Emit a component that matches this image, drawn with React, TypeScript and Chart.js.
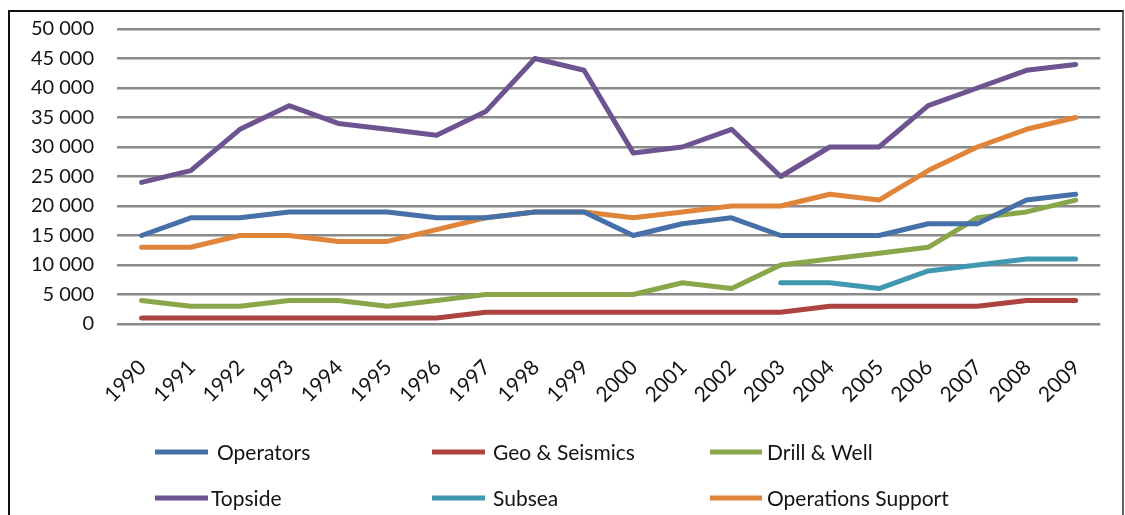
import { useEffect, useRef } from "react";
import { Chart, registerables } from "chart.js";

Chart.register(...registerables);

// Employment by category, 1990–2009
const years = [
  "1990", "1991", "1992", "1993", "1994", "1995", "1996", "1997", "1998", "1999",
  "2000", "2001", "2002", "2003", "2004", "2005", "2006", "2007", "2008", "2009",
];

const operators = [15000, 18000, 18000, 19000, 19000, 19000, 18000, 18000, 19000, 19000, 15000, 17000, 18000, 15000, 15000, 15000, 17000, 17000, 21000, 22000];
const geoSeismics = [1000, 1000, 1000, 1000, 1000, 1000, 1000, 2000, 2000, 2000, 2000, 2000, 2000, 2000, 3000, 3000, 3000, 3000, 4000, 4000];
const drillWell = [4000, 3000, 3000, 4000, 4000, 3000, 4000, 5000, 5000, 5000, 5000, 7000, 6000, 10000, 11000, 12000, 13000, 18000, 19000, 21000];
const topside = [24000, 26000, 33000, 37000, 34000, 33000, 32000, 36000, 45000, 43000, 29000, 30000, 33000, 25000, 30000, 30000, 37000, 40000, 43000, 44000];
const subsea = [null, null, null, null, null, null, null, null, null, null, null, null, null, 7000, 7000, 6000, 9000, 10000, 11000, 11000];
const operationsSupport = [13000, 13000, 15000, 15000, 14000, 14000, 16000, 18000, 19000, 19000, 18000, 19000, 20000, 20000, 22000, 21000, 26000, 30000, 33000, 35000];

const seriesNames = ["Operators", "Geo & Seismics", "Drill & Well", "Topside", "Subsea", "Operations Support"];
const seriesColors = ["#4570A8", "#AD4341", "#89A64B", "#6D5491", "#3F98B0", "#E0843A"];
const seriesValues = [operators, geoSeismics, drillWell, topside, subsea, operationsSupport];

const yTicks = [0, 5000, 10000, 15000, 20000, 25000, 30000, 35000, 40000, 45000, 50000];

const FONT = "Lato, 'Open Sans', sans-serif";
const TEXT_COLOR = "#141414";

const formatThousands = (v: number) =>
  String(v).replace(/\B(?=(\d{3})+(?!\d))/g, " ");

// Two-row, three-column legend drawn below the axis labels
const gridLegend = {
  id: "gridLegend",
  afterDraw(chart: Chart) {
    const ctx = chart.ctx;
    const lineStart = [155, 432, 710];
    const lineEnd = [208, 485, 762];
    const textX = [217, 493, 767, 211, 493, 767];
    const rowY = [452, 498];
    ctx.save();
    chart.data.datasets.forEach((ds, i) => {
      const col = i % 3;
      const row = Math.floor(i / 3);
      const y = rowY[row];
      ctx.strokeStyle = ds.borderColor as string;
      ctx.lineWidth = 5;
      ctx.lineCap = "butt";
      ctx.beginPath();
      ctx.moveTo(lineStart[col], y);
      ctx.lineTo(lineEnd[col], y);
      ctx.stroke();
      ctx.fillStyle = TEXT_COLOR;
      ctx.font = `21px ${FONT}`;
      ctx.textAlign = "left";
      ctx.textBaseline = "middle";
      ctx.fillText(ds.label as string, textX[i], y + 1);
    });
    ctx.restore();
  },
};

export default function App() {
  const canvasRef = useRef<HTMLCanvasElement>(null);

  useEffect(() => {
    const chart = new Chart(canvasRef.current!, {
      type: "line",
      data: {
        labels: years,
        datasets: seriesNames.map((name, i) => ({
          label: name,
          data: seriesValues[i],
          borderColor: seriesColors[i],
          backgroundColor: seriesColors[i],
          borderWidth: 5,
          pointRadius: 0,
          pointHoverRadius: 0,
          tension: 0,
          borderJoinStyle: "round" as const,
          borderCapStyle: "round" as const,
          spanGaps: false,
          fill: false,
        })),
      },
      options: {
        responsive: false,
        animation: false,
        layout: { padding: { left: 0, right: 21, top: 29, bottom: 0 } },
        plugins: {
          legend: { display: false },
          tooltip: { enabled: false },
        },
        scales: {
          x: {
            type: "category",
            offset: true,
            grid: { display: false, drawTicks: false },
            border: { display: false },
            ticks: {
              autoSkip: false,
              minRotation: 45,
              maxRotation: 45,
              padding: 31,
              labelOffset: 1,
              color: TEXT_COLOR,
              font: { family: FONT, size: 21 },
            },
            afterFit: (scale: any) => {
              scale.height = 191;
            },
          },
          y: {
            min: 0,
            max: 50000,
            afterBuildTicks: (scale: any) => {
              scale.ticks = yTicks.map((value) => ({ value }));
            },
            grid: {
              color: "#8A8A8A",
              lineWidth: 2.5,
              drawTicks: true,
              tickLength: 20,
              tickColor: "rgba(0,0,0,0)",
            },
            border: { display: false },
            ticks: {
              padding: 3,
              color: TEXT_COLOR,
              font: { family: FONT, size: 20 },
              callback: (v: any) => formatThousands(Number(v)),
            },
            afterFit: (scale: any) => {
              scale.width = 117;
            },
          },
        },
      },
      plugins: [gridLegend],
    });
    return () => chart.destroy();
  }, []);

  return (
    <div
      style={{
        position: "fixed",
        left: 0,
        top: 0,
        width: 1125,
        height: 515,
        overflow: "hidden",
        background: "#fff",
      }}
    >
      <div
        style={{
          position: "absolute",
          left: 8,
          top: 10,
          width: 1116,
          height: 560,
          boxSizing: "border-box",
          borderTop: "2px solid #111",
          borderLeft: "2px solid #111",
          borderRight: "2px solid #666",
        }}
      />
      <canvas
        ref={canvasRef}
        width={1125}
        height={515}
        style={{ position: "absolute", left: 0, top: 0, width: 1125, height: 515 }}
      />
    </div>
  );
}
